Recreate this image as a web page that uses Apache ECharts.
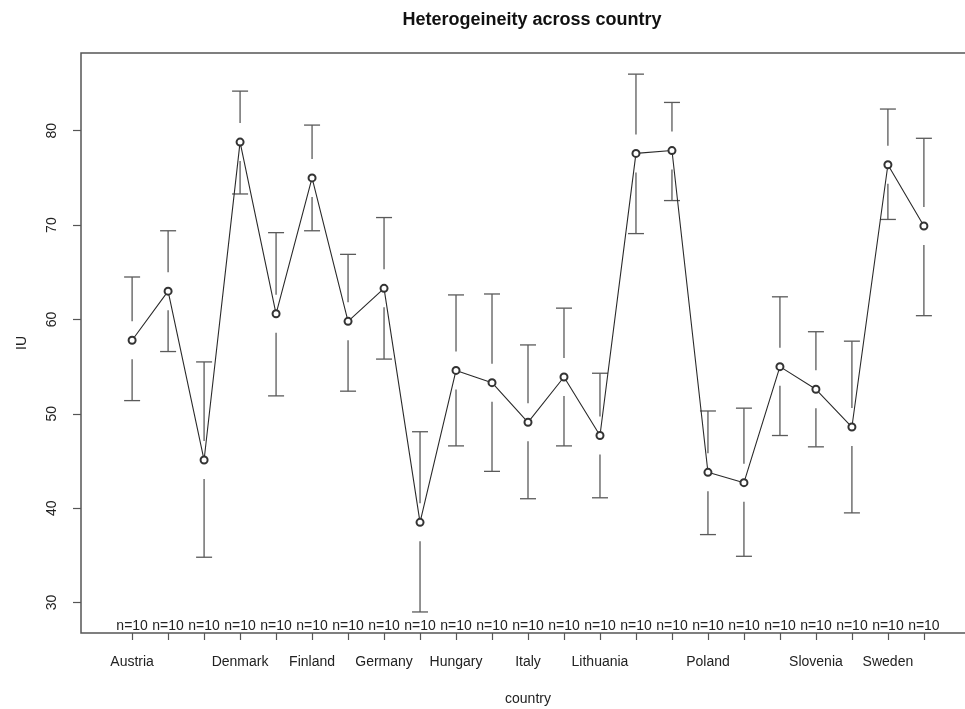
<!DOCTYPE html>
<html>
<head>
<meta charset="utf-8">
<script src="https://cdn.jsdelivr.net/npm/echarts@6/dist/echarts.min.js"></script>
<style>
  html, body { margin: 0; padding: 0; background: #fff; }
  #chart { width: 965px; height: 709px; }
</style>
</head>
<body>
<div id="chart"></div>
<script>
// Country order along the x axis
const countries = [
  'Austria', 'Belgium', 'Czech Republic', 'Denmark', 'Estonia', 'Finland',
  'France', 'Germany', 'Greece', 'Hungary', 'Ireland', 'Italy', 'Latvia',
  'Lithuania', 'Luxembourg', 'Netherlands', 'Poland', 'Portugal', 'Slovakia',
  'Slovenia', 'Spain', 'Sweden', 'United Kingdom'
];
// Group means of IU and their confidence limits
const means = [
  57.8, 63.0, 45.1, 78.8, 60.6, 75.0, 59.8, 63.3, 38.5, 54.6, 53.3, 49.1,
  53.9, 47.7, 77.6, 77.9, 43.8, 42.7, 55.0, 52.6, 48.6, 76.4, 69.9
];
const upperCI = [
  64.5, 69.4, 55.5, 84.2, 69.2, 80.6, 66.9, 70.8, 48.1, 62.6, 62.7, 57.3,
  61.2, 54.3, 86.0, 83.0, 50.3, 50.6, 62.4, 58.7, 57.7, 82.3, 79.2
];
const lowerCI = [
  51.4, 56.6, 34.8, 73.3, 51.9, 69.4, 52.4, 55.8, 29.0, 46.6, 43.9, 41.0,
  46.6, 41.1, 69.1, 72.6, 37.2, 34.9, 47.7, 46.5, 39.5, 70.6, 60.4
];
// Observations per country
const counts = [
  10, 10, 10, 10, 10, 10, 10, 10, 10, 10, 10, 10,
  10, 10, 10, 10, 10, 10, 10, 10, 10, 10, 10
];
// Axis tick labels
const yTicks = [30, 40, 50, 60, 70, 80];
const shownCountries = [
  'Austria', 'Denmark', 'Finland', 'Germany', 'Hungary', 'Italy',
  'Lithuania', 'Poland', 'Slovenia', 'Sweden'
];

const FONT = '"Liberation Sans", Arial, Helvetica, sans-serif';
const positions = countries.map((c, i) => i + 1);
const labelPositions = shownCountries.map(c => countries.indexOf(c) + 1);

const ciData = countries.map((c, i) => [i + 1, means[i], upperCI[i], lowerCI[i]]);
const meanData = countries.map((c, i) => [i + 1, means[i]]);
const countData = countries.map((c, i) => [i + 1, counts[i]]);

const chart = echarts.init(document.getElementById('chart'), null, { renderer: 'canvas' });

chart.setOption({
  animation: false,
  backgroundColor: '#fff',
  title: {
    text: 'Heterogeineity across country',
    left: 527,
    top: 6,
    textAlign: 'center',
    textStyle: { fontFamily: FONT, fontSize: 18, fontWeight: 'bold', color: '#111' }
  },
  grid: {
    left: 81,
    top: 53,
    width: 894,
    height: 580,
    outerBoundsMode: 'none',
    containLabel: false,
    show: true,
    borderColor: '#555',
    borderWidth: 1.5,
    backgroundColor: 'transparent'
  },
  xAxis: {
    type: 'value',
    min: -0.42,
    max: 24.42,
    name: 'country',
    nameLocation: 'middle',
    nameGap: 59,
    nameTextStyle: { fontFamily: FONT, fontSize: 14, color: '#222' },
    splitLine: { show: false },
    axisLine: { show: false, onZero: false },
    axisTick: {
      show: true,
      customValues: positions,
      length: 7,
      lineStyle: { color: '#555', width: 1.2 }
    },
    axisLabel: {
      customValues: labelPositions,
      margin: 22,
      fontFamily: FONT,
      fontSize: 14,
      color: '#222',
      formatter: v => countries[Math.round(v) - 1] || ''
    }
  },
  yAxis: {
    type: 'value',
    min: 26.77,
    max: 88.24,
    name: 'IU',
    nameLocation: 'middle',
    nameGap: 52,
    nameRotate: 90,
    nameTextStyle: { fontFamily: FONT, fontSize: 14, color: '#222' },
    splitLine: { show: false },
    axisLine: { show: false, onZero: false },
    axisTick: {
      show: true,
      customValues: yTicks,
      length: 8,
      lineStyle: { color: '#555', width: 1.2 }
    },
    axisLabel: {
      customValues: yTicks,
      rotate: 90,
      margin: 22,
      fontFamily: FONT,
      fontSize: 14,
      color: '#222'
    }
  },
  series: [
    {
      // Confidence interval bars, broken around each mean marker
      type: 'custom',
      data: ciData,
      z: 2,
      renderItem: function (params, api) {
        const x = api.value(0);
        const m = api.coord([x, api.value(1)]);
        const hi = api.coord([x, api.value(2)]);
        const lo = api.coord([x, api.value(3)]);
        const gap = 19, cap = 8;
        const style = { stroke: '#5a5a5a', lineWidth: 1.3 };
        const children = [];
        if (m[1] - gap > hi[1]) {
          children.push({ type: 'line', shape: { x1: m[0], y1: hi[1], x2: m[0], y2: m[1] - gap }, style: style });
        }
        children.push({ type: 'line', shape: { x1: m[0] - cap, y1: hi[1], x2: m[0] + cap, y2: hi[1] }, style: style });
        if (m[1] + gap < lo[1]) {
          children.push({ type: 'line', shape: { x1: m[0], y1: m[1] + gap, x2: m[0], y2: lo[1] }, style: style });
        }
        children.push({ type: 'line', shape: { x1: m[0] - cap, y1: lo[1], x2: m[0] + cap, y2: lo[1] }, style: style });
        return { type: 'group', children: children };
      }
    },
    {
      // Means joined by a line, open circle markers
      type: 'line',
      data: meanData,
      z: 3,
      symbol: 'emptyCircle',
      symbolSize: 7,
      showSymbol: true,
      lineStyle: { color: '#2a2a2a', width: 1.1 },
      itemStyle: { color: '#333', borderColor: '#333', borderWidth: 0.9 }
    },
    {
      // Sample size printed along the bottom of the plot
      type: 'custom',
      data: countData,
      z: 4,
      renderItem: function (params, api) {
        const x = api.value(0);
        const p = api.coord([x, 30]);
        const cs = params.coordSys;
        return {
          type: 'text',
          style: {
            x: p[0],
            y: cs.y + cs.height - 7,
            text: 'n=' + api.value(1),
            align: 'center',
            verticalAlign: 'middle',
            font: '14px ' + FONT,
            fill: '#222'
          }
        };
      }
    }
  ]
});
</script>
</body>
</html>
